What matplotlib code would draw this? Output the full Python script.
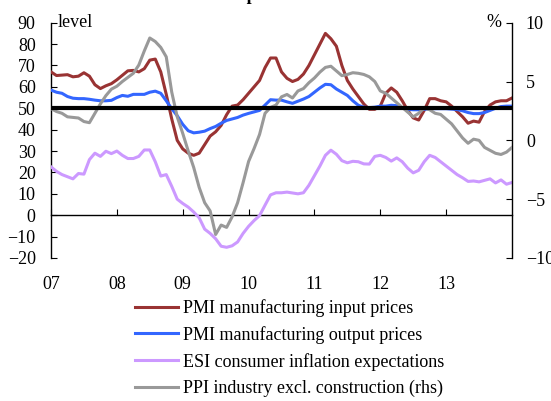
import matplotlib
matplotlib.use("Agg")
import matplotlib.pyplot as plt
from matplotlib.lines import Line2D

plt.rcParams['font.family'] = ['Liberation Serif', 'DejaVu Serif']
plt.rcParams['font.size'] = 13

# ---- data (monthly, Jan 2007 onwards) ----
year_labels = ["07", "08", "09", "10", "11", "12", "13"]

pmi_input = [67, 65.3, 65.5, 65.7, 64.7, 65, 66.6, 65, 61, 59.2, 60.5, 61.5,
             63.3, 65.4, 67.5, 67.7, 67, 68.5, 72.5, 73, 67, 56.5, 45, 35,
             31, 29, 28, 29, 33, 37, 39, 42, 47, 51, 51.5, 54,
             57, 60, 63, 69, 73.5, 73.5, 67, 64, 62.5, 63.5, 66, 70,
             75, 80, 85, 82.5, 79, 70, 63, 59, 55.5, 52, 49.5, 49.5,
             51, 57, 59.5, 57.5, 53.5, 49, 45.5, 44.5, 49, 54.5, 54.5, 53.5,
             53, 51, 48.5, 46, 43, 44, 43.5, 48.5, 51.5, 53, 53.5, 53.5, 54.8]

pmi_output = [58.5, 57.5, 57, 55.5, 54.7, 54.5, 54.5, 54.2, 53.8, 53.5, 53.5, 53.7,
              55, 56, 55.6, 56.5, 56.5, 56.5, 57.5, 58, 57, 53.5, 49.8, 46.5,
              42.5, 39.5, 38.5, 38.8, 39.3, 40.5, 41.5, 43, 44.3, 45, 45.7, 46.8,
              47.6, 48.3, 49, 51.5, 54, 53.8, 53.8, 53, 52.3, 53.3, 54.3, 55.5,
              57.5, 59.5, 61.2, 61, 59, 57.5, 56, 53.5, 51.4, 50.5, 50.3, 50.5,
              51, 51, 51.4, 51.2, 50.3, 49.5, 49.3, 49.3, 49.5, 49.8, 49.8, 49.8,
              49.8, 49.6, 49.4, 48.8, 48, 47.5, 47.5, 48, 49, 50, 50.8, 51, 51]

esi_expect = [22.6, 20.5, 19, 18, 17, 19.5, 19.2, 26, 29, 27.5, 29.9, 28.8,
              30, 28, 26.5, 26.5, 27.5, 30.5, 30.5, 25, 18.3, 19, 13.5, 7.5,
              5.5, 3.8, 1.5, -1.2, -6.5, -8.5, -11, -14.5, -15, -14.3, -12.5, -8.5,
              -5.2, -2.5, -0.2, 4.7, 9.5, 10.5, 10.5, 10.8, 10.4, 10, 10.5, 14,
              18.5, 23, 28, 30.4, 28.5, 25.5, 24.5, 25.2, 25, 24, 23.9, 27.5,
              28, 27, 25.3, 26.8, 25, 22, 19.8, 21, 25, 28, 27, 25,
              23, 21, 19, 17.5, 15.8, 16, 15.6, 16.3, 17, 15.1, 16.5, 14.5, 15.3]

ppi_rhs = [2.7, 2.45, 2.3, 2.0, 1.95, 1.9, 1.6, 1.5, 2.3, 3.1, 3.8, 4.35,
           4.6, 5.0, 5.35, 5.7, 6.4, 7.6, 8.7, 8.4, 7.9, 7.1, 4.1, 2.0,
           0.6, -0.9, -2.3, -4.0, -5.3, -6.0, -8.0, -7.2, -7.4, -6.5, -5.3, -3.6,
           -1.8, -0.7, 0.5, 2.3, 2.8, 3.0, 3.7, 3.9, 3.6, 4.2, 4.4, 4.9,
           5.3, 5.8, 6.2, 6.3, 5.9, 5.5, 5.6, 5.75, 5.7, 5.6, 5.4, 5.0,
           4.2, 4.0, 3.6, 3.2, 2.8, 2.4, 2.0, 2.3, 2.75, 2.6, 2.3, 2.2,
           1.8, 1.4, 0.8, 0.2, -0.25, 0.1, 0.0, -0.6, -0.85, -1.1, -1.2, -1.0, -0.6]

reference_level = 50
labels = ["PMI manufacturing input prices", "PMI manufacturing output prices",
          "ESI consumer inflation expectations", "PPI industry excl. construction (rhs)"]
colors = ["#993333", "#3366FF", "#CC99FF", "#999999"]

months = list(range(len(pmi_input)))

fig = plt.figure(figsize=(5.51, 4.01), dpi=100)
ax = fig.add_axes([51 / 551, 1 - 258 / 401, 461 / 551, (258 - 22.7) / 401])
ax2 = ax.twinx()

lw = 2.2
ax.plot(months, pmi_input, color=colors[0], lw=lw, zorder=3)
ax.plot(months, pmi_output, color=colors[1], lw=lw, zorder=3)
ax.plot(months, esi_expect, color=colors[2], lw=lw, zorder=3)
ax2.plot(months, ppi_rhs, color=colors[3], lw=lw, zorder=3)
ax2.plot([0, 1], [reference_level, reference_level], color="black", lw=3,
         transform=ax.get_yaxis_transform(), zorder=5, solid_capstyle='butt')

ax.set_xlim(0, 84)
ax.set_ylim(-20, 90)
ax2.set_ylim(-10, 10)

ax.set_yticks(range(-20, 91, 10))
ax2.set_yticks(range(-10, 11, 5))
ax.set_xticks(range(0, 84, 12))
ax.set_xticklabels(year_labels)

for s in ["top", "right"]:
    ax.spines[s].set_visible(False)
for s in ["top", "left", "bottom"]:
    ax2.spines[s].set_visible(False)
ax.spines["bottom"].set_position(("data", 0))
for sp in [ax.spines["left"], ax.spines["bottom"], ax2.spines["right"]]:
    sp.set_linewidth(1.0)

ax.tick_params(axis="y", direction="in", length=4, pad=11, labelsize=13)
ax.tick_params(axis="x", direction="in", length=4, pad=44, labelsize=13)
ax2.tick_params(axis="y", direction="in", length=4, pad=10, labelsize=13)

ax.text(0.015, 1.0, "level", transform=ax.transAxes, ha="left", va="center", fontsize=13)
ax.text(0.976, 1.0, "%", transform=ax.transAxes, ha="right", va="center", fontsize=13)

fig.text(0.462, 1.0, "Price expectations", ha="center", va="baseline",
         fontsize=13, fontweight="bold")

handles = [Line2D([], [], color=c, lw=lw) for c in colors]
fig.legend(handles, labels, loc="upper left", bbox_to_anchor=(135 / 551, 1 - 299 / 401),
           frameon=False, fontsize=13, handlelength=2.4, handletextpad=0.28,
           labelspacing=0.5, borderpad=0, borderaxespad=0)

fig.savefig("out.png", dpi=100)
